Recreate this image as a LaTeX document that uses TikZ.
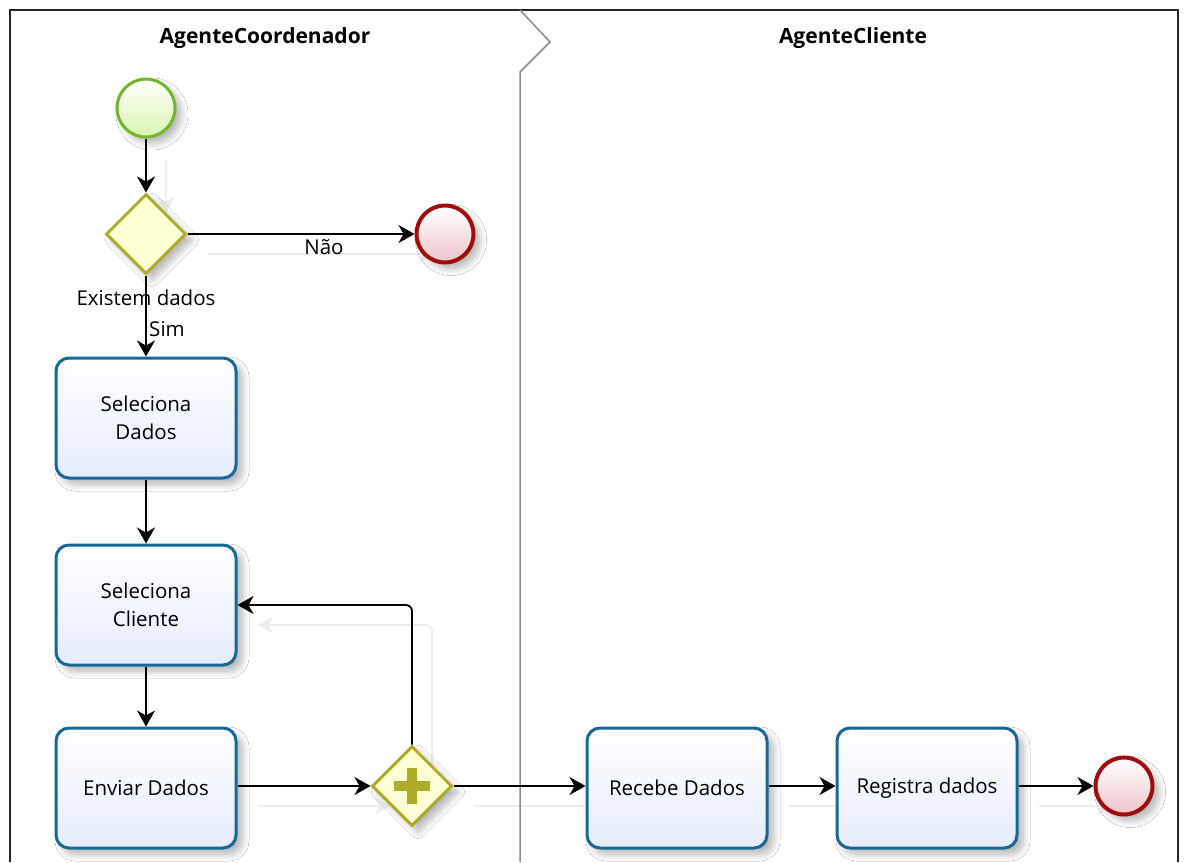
\documentclass[tikz,border=0pt]{standalone}
\usepackage{fontspec}
\setmainfont{Open Sans}
\usetikzlibrary{arrows.meta,shadows.blur,backgrounds,shapes.geometric,calc}

\definecolor{taskline}{RGB}{24,104,150}
\definecolor{taskfill}{RGB}{230,236,253}
\definecolor{gwline}{RGB}{172,172,40}
\definecolor{gwfill}{RGB}{255,255,212}
\definecolor{startline}{RGB}{112,184,40}
\definecolor{startfill}{RGB}{218,244,176}
\definecolor{endline}{RGB}{160,12,12}
\definecolor{endfill}{RGB}{238,196,202}
\definecolor{laneline}{RGB}{140,140,140}

\begin{document}
\begin{tikzpicture}[x=1pt,y=-1pt,
  every node/.style={font=\fontsize{20.5}{28}\selectfont},
  shadowed/.style={blur shadow={shadow xshift=6pt,shadow yshift=-6pt,
      shadow blur steps=10,shadow opacity=30,shadow blur radius=7pt}},
  task/.style={draw=taskline,line width=3pt,rounded corners=13pt,
      minimum width=180pt,minimum height=120pt,align=center,
      top color=white,bottom color=taskfill,shadowed},
  gateway/.style={diamond,draw=gwline,line width=3pt,fill=gwfill,
      minimum width=80pt,minimum height=80pt,inner sep=0pt,shadowed},
  startev/.style={circle,draw=startline,line width=3pt,minimum size=58pt,
      inner sep=0pt,top color=white,bottom color=startfill,shadowed},
  endev/.style={circle,draw=endline,line width=4pt,minimum size=57pt,
      inner sep=0pt,top color=white,bottom color=endfill,shadowed},
  title/.style={font=\fontsize{21}{24}\selectfont\bfseries},
  lbl/.style={inner sep=0pt},
  flow/.style={line width=1.8pt,-{Stealth[length=16pt,width=18pt,inset=5pt]}},
  ghost/.style={draw=black!7,line width=1.8pt,
      -{Stealth[length=16pt,width=18pt,inset=5pt]}}
]
\useasboundingbox (0,0) rectangle (1185,862);

% pool frame and lane divider
\draw[line width=2pt,black!85] (10,862) -- (10,10) -- (1178,10) -- (1178,862);
\draw[laneline,line width=1.5pt] (520,10) -- (550,42) -- (520,72) -- (520,862);

% lane titles
\node[title] (t1) at (265,38) {AgenteCoordenador};
\node[title] (t2) at (853,38) {AgenteCliente};

% flow objects
\node[startev] (s) at (146,108) {};
\node[gateway] (g) at (146,234) {};
\node[endev] (e1) at (445,234) {};
\node[task] (sd) at (146,418) {Seleciona\\Dados};
\node[task] (sc) at (146,605) {Seleciona\\Cliente};
\node[task] (ed) at (146,788) {Enviar Dados};
\node[gateway] (pg) at (412,786) {};
\node[task] (rd) at (677,788) {Recebe Dados};
\node[task] (rg) at (927,788) {Registra dados};
\node[endev] (e2) at (1124,786) {};

% plus sign of the parallel gateway
\fill[gwline] ($(pg.center)+(-5,-18)$) rectangle ($(pg.center)+(5,18)$);
\fill[gwline] ($(pg.center)+(-18,-5)$) rectangle ($(pg.center)+(18,5)$);

% labels
\node[lbl] (nao) at (324,247) {Não};
\node[lbl] (exd) at (146,298) {Existem dados};
\node[lbl] (sim) at (167,329) {Sim};

% sequence flows
\draw[flow] (s) -- (g);
\draw[flow] (g.east) -- (e1);
\draw[flow] (g.south) -- (sd.north);
\draw[flow] (sd) -- (sc);
\draw[flow] (sc) -- (ed);
\draw[flow] (ed.east |- pg.west) -- (pg.west);
\draw[flow,rounded corners=6pt] (pg.north) |- (sc.east);
\draw[flow] (pg.east) -- (rd.west |- pg.east);
\draw[flow] (rd.east |- pg.east) -- (rg.west |- pg.east);
\draw[flow] (rg.east |- e2.west) -- (e2.west);

% faint offset copies of the flows
\begin{scope}[on background layer]
\fill[white] (0,0) rectangle (1185,862);
\draw[ghost] ($(s.south)+(20,20)$) -- ($(g.north)+(20,20)$);
\draw[ghost] ($(g.east)+(20,20)$) -- ($(e1.west)+(20,20)$);
\draw[ghost] ($(ed.east |- pg.west)+(20,20)$) -- ($(pg.west)+(20,20)$);
\draw[ghost,rounded corners=6pt] ($(pg.north)+(20,20)$) |- ($(sc.east)+(20,20)$);
\draw[ghost] ($(pg.east)+(20,20)$) -- ($(rd.west |- pg.east)+(20,20)$);
\draw[ghost] ($(rd.east |- pg.east)+(20,20)$) -- ($(rg.west |- pg.east)+(20,20)$);
\draw[ghost] ($(rg.east |- e2.west)+(20,20)$) -- ($(e2.west)+(20,20)$);
\end{scope}
\end{tikzpicture}
\end{document}
